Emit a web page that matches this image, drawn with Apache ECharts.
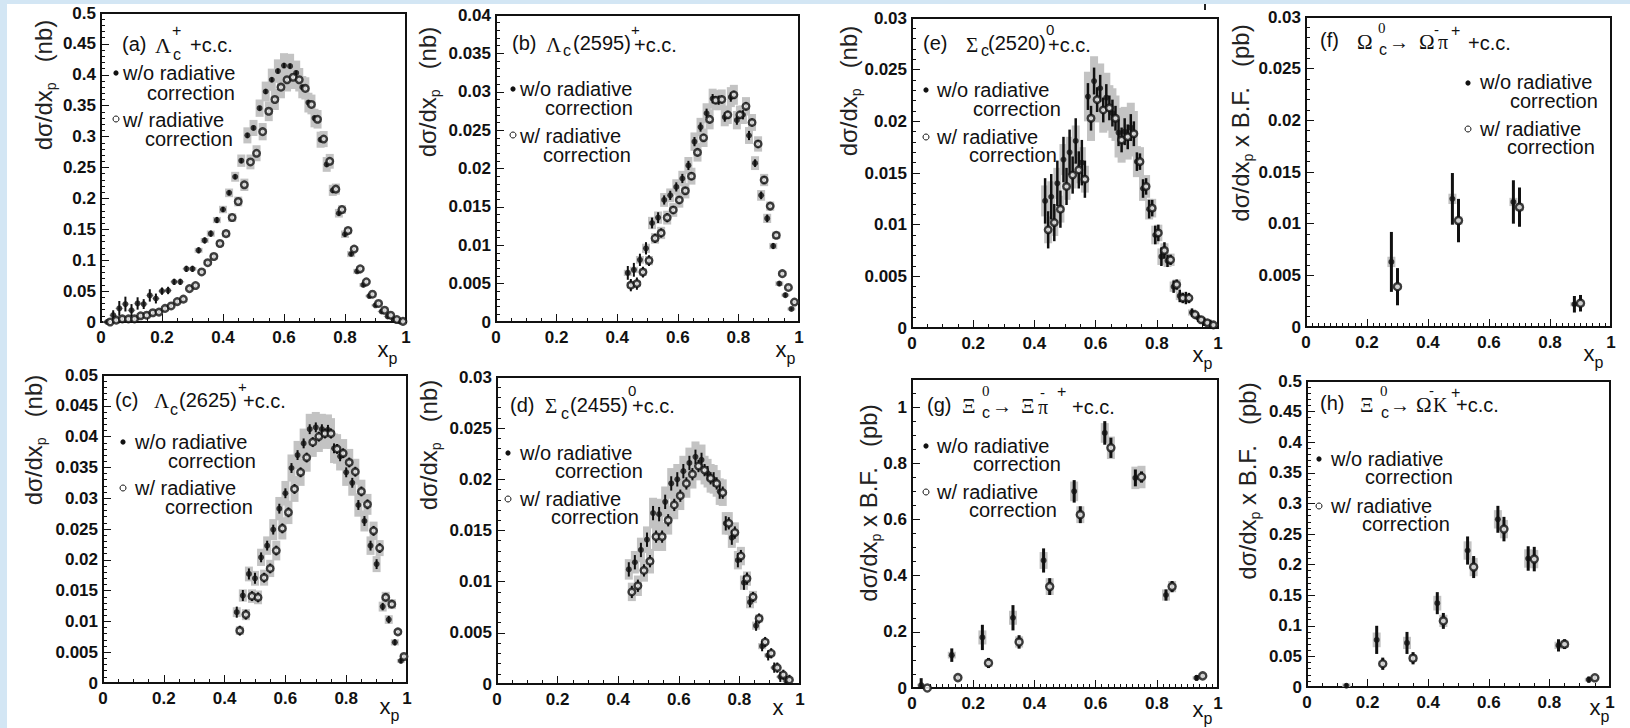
<!DOCTYPE html>
<html><head><meta charset="utf-8">
<script src="https://cdn.jsdelivr.net/npm/echarts@6/dist/echarts.min.js"></script>
<style>html,body{margin:0;padding:0;background:#fff;}#c{width:1630px;height:728px;}</style>
</head><body><div id="c"></div>
<script>
// ---------------- DATA ----------------
// (a) Lambda_c+
const A_WO_X = [0.02,0.04,0.06,0.08,0.10,0.12,0.14,0.16,0.18,0.20,0.22,0.24,0.26,0.28,0.30,0.32,0.34,0.36,0.38,0.40,0.42,0.44,0.46,0.48,0.50,0.52,0.54,0.56,0.58,0.60,0.62,0.64,0.66,0.68,0.70,0.72,0.74,0.76,0.78,0.80,0.82,0.84,0.86,0.88,0.90,0.92,0.94,0.96,0.98];
const A_WO_Y = [0.000,0.011,0.022,0.029,0.019,0.030,0.029,0.043,0.038,0.050,0.051,0.065,0.065,0.086,0.086,0.116,0.132,0.143,0.165,0.182,0.209,0.235,0.261,0.302,0.314,0.346,0.373,0.392,0.406,0.415,0.414,0.403,0.380,0.355,0.330,0.295,0.255,0.213,0.176,0.142,0.110,0.082,0.060,0.042,0.027,0.017,0.009,0.004,0.001];
const A_WO_E = [0.001,0.008,0.012,0.012,0.010,0.010,0.008,0.010,0.008,0.006,0.006,0.005,0.005,0.005,0.005,0.005,0.005,0.005,0.005,0.004,0.004,0.004,0.004,0.004,0.004,0.004,0.004,0.004,0.004,0.004,0.004,0.004,0.004,0.004,0.004,0.004,0.004,0.004,0.004,0.004,0.003,0.003,0.003,0.003,0.003,0.003,0.003,0.003,0.003];
const A_WO_S = [0.001,0.001,0.001,0.001,0.001,0.001,0.001,0.001,0.001,0.001,0.001,0.001,0.001,0.001,0.003,0.004,0.004,0.005,0.005,0.006,0.007,0.008,0.010,0.013,0.013,0.014,0.016,0.018,0.019,0.020,0.020,0.020,0.018,0.016,0.015,0.013,0.012,0.009,0.007,0.006,0.005,0.004,0.003,0.002,0.002,0.001,0.001,0.001,0.001];
const A_W_X = [0.03,0.05,0.07,0.09,0.11,0.13,0.15,0.17,0.19,0.21,0.23,0.25,0.27,0.29,0.31,0.33,0.35,0.37,0.39,0.41,0.43,0.45,0.47,0.49,0.51,0.53,0.55,0.57,0.59,0.61,0.63,0.65,0.67,0.69,0.71,0.73,0.75,0.77,0.79,0.81,0.83,0.85,0.87,0.89,0.91,0.93,0.95,0.97,0.99];
const A_W_Y = [0.000,0.003,0.005,0.005,0.005,0.010,0.011,0.015,0.016,0.022,0.026,0.033,0.037,0.054,0.059,0.081,0.096,0.106,0.127,0.143,0.169,0.195,0.222,0.259,0.273,0.308,0.341,0.360,0.380,0.392,0.396,0.392,0.378,0.352,0.328,0.296,0.260,0.215,0.182,0.148,0.118,0.086,0.065,0.045,0.030,0.019,0.011,0.004,0.001];
const A_W_E = [0.001,0.004,0.004,0.004,0.004,0.004,0.004,0.004,0.004,0.004,0.004,0.004,0.004,0.003,0.003,0.003,0.003,0.003,0.003,0.003,0.003,0.003,0.003,0.003,0.003,0.003,0.003,0.003,0.003,0.003,0.003,0.003,0.003,0.003,0.003,0.003,0.003,0.003,0.003,0.003,0.003,0.003,0.003,0.003,0.003,0.003,0.003,0.003,0.003];
const A_W_S = [0.001,0.001,0.001,0.001,0.001,0.001,0.001,0.001,0.001,0.001,0.001,0.001,0.001,0.002,0.003,0.004,0.004,0.005,0.005,0.006,0.007,0.008,0.010,0.012,0.013,0.014,0.016,0.017,0.018,0.019,0.019,0.019,0.018,0.016,0.015,0.013,0.012,0.009,0.007,0.006,0.005,0.004,0.003,0.002,0.002,0.001,0.001,0.001,0.001];

// (b) Lambda_c(2595)+
const B_WO_X = [0.435,0.455,0.475,0.495,0.515,0.535,0.555,0.575,0.595,0.615,0.635,0.655,0.675,0.695,0.715,0.735,0.755,0.775,0.795,0.815,0.835,0.855,0.875,0.895,0.915,0.935,0.955,0.975];
const B_WO_Y = [0.0064,0.0068,0.0081,0.0096,0.0129,0.0136,0.0159,0.0165,0.0176,0.0187,0.0204,0.0235,0.0254,0.0272,0.0291,0.0289,0.0267,0.0293,0.0263,0.0270,0.0243,0.0207,0.0165,0.0135,0.0099,0.0050,0.0035,0.0017];
const B_WO_E = [0.0009,0.0009,0.0008,0.0008,0.0007,0.0007,0.0006,0.0006,0.0006,0.0006,0.0006,0.0006,0.0006,0.0006,0.0006,0.0006,0.0006,0.0006,0.0006,0.0006,0.0006,0.0005,0.0005,0.0005,0.0004,0.0003,0.0003,0.0002];
const B_WO_S = [0.0004,0.0004,0.0005,0.0006,0.0008,0.0008,0.0009,0.0009,0.0010,0.0010,0.0011,0.0012,0.0012,0.0013,0.0013,0.0013,0.0012,0.0013,0.0012,0.0012,0.0011,0.0009,0.0007,0.0006,0.0004,0.0003,0.0002,0.0002];
const B_W_X = [0.445,0.465,0.485,0.505,0.525,0.545,0.565,0.585,0.605,0.625,0.645,0.665,0.685,0.705,0.725,0.745,0.765,0.785,0.805,0.825,0.845,0.865,0.885,0.905,0.925,0.945,0.965,0.985];
const B_W_Y = [0.0048,0.0050,0.0065,0.0080,0.0109,0.0116,0.0136,0.0146,0.0159,0.0171,0.0190,0.0221,0.0240,0.0264,0.0289,0.0290,0.0270,0.0296,0.0270,0.0281,0.0260,0.0232,0.0185,0.0151,0.0113,0.0063,0.0045,0.0026];
const B_W_E = [0.0008,0.0008,0.0007,0.0007,0.0006,0.0006,0.0006,0.0005,0.0005,0.0005,0.0005,0.0005,0.0005,0.0005,0.0005,0.0005,0.0005,0.0005,0.0005,0.0005,0.0005,0.0005,0.0005,0.0004,0.0004,0.0003,0.0003,0.0002];
const B_W_S = [0.0004,0.0004,0.0005,0.0006,0.0007,0.0008,0.0009,0.0009,0.0010,0.0010,0.0011,0.0012,0.0012,0.0013,0.0013,0.0013,0.0012,0.0013,0.0012,0.0012,0.0011,0.0010,0.0008,0.0006,0.0005,0.0003,0.0002,0.0002];

// (e) Sigma_c(2520)0
const E_WO_X = [0.435,0.455,0.475,0.495,0.515,0.535,0.555,0.575,0.595,0.615,0.635,0.655,0.675,0.695,0.715,0.735,0.755,0.775,0.795,0.815,0.835,0.855,0.875,0.895,0.915,0.935,0.955,0.975];
const E_WO_Y = [0.0123,0.0127,0.0140,0.0163,0.0170,0.0181,0.0160,0.0224,0.0239,0.0232,0.0223,0.0208,0.0189,0.0190,0.0194,0.0161,0.0135,0.0115,0.0090,0.0069,0.0065,0.0040,0.0031,0.0029,0.0015,0.0010,0.0006,0.0004];
const E_WO_E = [0.0022,0.0022,0.0022,0.0022,0.0022,0.0022,0.0022,0.0013,0.0013,0.0013,0.0013,0.0013,0.0013,0.0013,0.0013,0.0009,0.0009,0.0009,0.0009,0.0009,0.0006,0.0006,0.0006,0.0006,0.0004,0.0004,0.0004,0.0004];
const E_WO_S = [0.0015,0.0015,0.0015,0.0015,0.0015,0.0015,0.0015,0.0024,0.0024,0.0024,0.0024,0.0024,0.0024,0.0024,0.0024,0.0015,0.0012,0.0010,0.0009,0.0008,0.0006,0.0005,0.0004,0.0003,0.0003,0.0002,0.0002,0.0001];
const E_W_X = [0.445,0.465,0.485,0.505,0.525,0.545,0.565,0.585,0.605,0.625,0.645,0.665,0.685,0.705,0.725,0.745,0.765,0.785,0.805,0.825,0.845,0.865,0.885,0.905,0.925,0.945,0.965,0.985];
const E_W_Y = [0.0095,0.0102,0.0115,0.0137,0.0148,0.0153,0.0144,0.0203,0.0221,0.0211,0.0213,0.0203,0.0182,0.0185,0.0188,0.0161,0.0137,0.0116,0.0092,0.0075,0.0066,0.0042,0.0029,0.0029,0.0013,0.0008,0.0005,0.0003];
const E_W_E = [0.0018,0.0018,0.0018,0.0018,0.0018,0.0018,0.0018,0.0012,0.0012,0.0012,0.0012,0.0012,0.0012,0.0012,0.0012,0.0008,0.0008,0.0008,0.0008,0.0008,0.0005,0.0005,0.0005,0.0005,0.0003,0.0003,0.0003,0.0003];
const E_W_S = [0.0013,0.0013,0.0013,0.0013,0.0013,0.0013,0.0013,0.0022,0.0022,0.0022,0.0022,0.0022,0.0022,0.0022,0.0022,0.0014,0.0011,0.0009,0.0008,0.0007,0.0006,0.0005,0.0004,0.0003,0.0002,0.0002,0.0001,0.0001];

// (f) Omega_c0 -> Omega- pi+
const F_WO_X = [0.28,0.48,0.68,0.88];
const F_WO_Y = [0.0063,0.0124,0.0121,0.0022];
const F_WO_E = [0.0029,0.0025,0.0021,0.0008];
const F_WO_S = [0.0005,0.0005,0.0004,0.0002];
const F_W_X = [0.30,0.50,0.70,0.90];
const F_W_Y = [0.0039,0.0103,0.0116,0.0023];
const F_W_E = [0.0018,0.0021,0.0019,0.0008];
const F_W_S = [0.0003,0.0004,0.0004,0.0002];

// (c) Lambda_c(2625)+
const C_WO_X = [0.44,0.46,0.48,0.50,0.52,0.54,0.56,0.58,0.60,0.62,0.64,0.66,0.68,0.70,0.72,0.74,0.76,0.78,0.80,0.82,0.84,0.86,0.88,0.90,0.92,0.94,0.96,0.98];
const C_WO_Y = [0.0115,0.0142,0.0177,0.0170,0.0204,0.0223,0.0249,0.0283,0.0308,0.0349,0.0370,0.0389,0.0412,0.0415,0.0412,0.0411,0.0381,0.0368,0.0342,0.0325,0.0289,0.0263,0.0223,0.0193,0.0124,0.0103,0.0066,0.0036];
const C_WO_E = [0.0009,0.0009,0.0009,0.0009,0.0008,0.0008,0.0008,0.0008,0.0008,0.0008,0.0008,0.0008,0.0008,0.0008,0.0008,0.0008,0.0008,0.0008,0.0008,0.0008,0.0008,0.0008,0.0008,0.0008,0.0006,0.0006,0.0005,0.0004];
const C_WO_S = [0.0008,0.0010,0.0012,0.0012,0.0014,0.0015,0.0017,0.0019,0.0020,0.0022,0.0023,0.0024,0.0025,0.0025,0.0025,0.0025,0.0024,0.0023,0.0022,0.0021,0.0019,0.0017,0.0015,0.0013,0.0008,0.0007,0.0005,0.0003];
const C_W_X = [0.45,0.47,0.49,0.51,0.53,0.55,0.57,0.59,0.61,0.63,0.65,0.67,0.69,0.71,0.73,0.75,0.77,0.79,0.81,0.83,0.85,0.87,0.89,0.91,0.93,0.95,0.97,0.99];
const C_W_Y = [0.0085,0.0111,0.0141,0.0139,0.0171,0.0186,0.0215,0.0251,0.0277,0.0315,0.0342,0.0366,0.0391,0.0400,0.0405,0.0405,0.0380,0.0373,0.0358,0.0343,0.0311,0.0290,0.0247,0.0219,0.0139,0.0128,0.0083,0.0043];
const C_W_E = [0.0008,0.0008,0.0008,0.0008,0.0008,0.0008,0.0008,0.0008,0.0008,0.0008,0.0008,0.0008,0.0008,0.0008,0.0008,0.0008,0.0008,0.0008,0.0008,0.0008,0.0008,0.0008,0.0008,0.0008,0.0006,0.0006,0.0005,0.0004];
const C_W_S = [0.0007,0.0009,0.0011,0.0011,0.0013,0.0014,0.0016,0.0018,0.0019,0.0021,0.0022,0.0023,0.0024,0.0025,0.0025,0.0025,0.0024,0.0023,0.0022,0.0021,0.0019,0.0017,0.0015,0.0013,0.0009,0.0008,0.0005,0.0003];

// (d) Sigma_c(2455)0
const D_WO_X = [0.435,0.455,0.475,0.495,0.515,0.535,0.555,0.575,0.595,0.615,0.635,0.655,0.675,0.695,0.715,0.735,0.755,0.775,0.795,0.815,0.835,0.855,0.875,0.895,0.915,0.935,0.955];
const D_WO_Y = [0.0112,0.0119,0.0131,0.0141,0.0167,0.0166,0.0178,0.0196,0.0200,0.0208,0.0216,0.0222,0.0219,0.0206,0.0200,0.0188,0.0157,0.0143,0.0121,0.0099,0.0080,0.0057,0.0037,0.0028,0.0016,0.0007,0.0003];
const D_WO_E = [0.0007,0.0007,0.0007,0.0007,0.0007,0.0007,0.0007,0.0007,0.0007,0.0007,0.0007,0.0007,0.0007,0.0007,0.0007,0.0007,0.0007,0.0007,0.0007,0.0007,0.0005,0.0005,0.0005,0.0005,0.0005,0.0005,0.0005];
const D_WO_S = [0.0010,0.0011,0.0012,0.0013,0.0015,0.0015,0.0015,0.0015,0.0015,0.0015,0.0015,0.0015,0.0015,0.0014,0.0014,0.0013,0.0011,0.0010,0.0009,0.0007,0.0006,0.0004,0.0003,0.0002,0.0001,0.0001,0.0001];
const D_W_X = [0.445,0.465,0.485,0.505,0.525,0.545,0.565,0.585,0.605,0.625,0.645,0.665,0.685,0.705,0.725,0.745,0.765,0.785,0.805,0.825,0.845,0.865,0.885,0.905,0.925,0.945,0.965];
const D_W_Y = [0.0090,0.0096,0.0111,0.0120,0.0144,0.0144,0.0160,0.0175,0.0184,0.0196,0.0205,0.0213,0.0209,0.0201,0.0196,0.0187,0.0157,0.0148,0.0125,0.0103,0.0085,0.0064,0.0041,0.0030,0.0016,0.0009,0.0004];
const D_W_E = [0.0006,0.0006,0.0006,0.0006,0.0006,0.0006,0.0006,0.0006,0.0006,0.0006,0.0006,0.0006,0.0006,0.0006,0.0006,0.0006,0.0006,0.0006,0.0006,0.0006,0.0005,0.0005,0.0005,0.0005,0.0005,0.0005,0.0005];
const D_W_S = [0.0009,0.0010,0.0011,0.0012,0.0014,0.0014,0.0014,0.0014,0.0014,0.0014,0.0014,0.0014,0.0014,0.0014,0.0013,0.0013,0.0011,0.0010,0.0009,0.0007,0.0006,0.0004,0.0003,0.0002,0.0001,0.0001,0.0001];

// (g) Xi_c0 -> Xi- pi+
const G_WO_X = [0.03,0.13,0.23,0.33,0.43,0.53,0.63,0.73,0.83,0.93];
const G_WO_Y = [0.010,0.117,0.180,0.250,0.454,0.700,0.908,0.748,0.331,0.036];
const G_WO_E = [0.025,0.024,0.045,0.045,0.043,0.040,0.042,0.030,0.020,0.010];
const G_WO_S = [0.005,0.012,0.025,0.025,0.030,0.035,0.035,0.040,0.020,0.006];
const G_W_X = [0.05,0.15,0.25,0.35,0.45,0.55,0.65,0.75,0.85,0.95];
const G_W_Y = [0.000,0.037,0.089,0.164,0.361,0.617,0.855,0.751,0.361,0.043];
const G_W_E = [0.004,0.010,0.018,0.024,0.030,0.030,0.036,0.020,0.020,0.008];
const G_W_S = [0.002,0.006,0.014,0.020,0.030,0.030,0.040,0.040,0.020,0.006];

// (h) Xi_c0 -> Omega- K+
const H_WO_X = [0.13,0.23,0.33,0.43,0.53,0.63,0.73,0.83,0.93];
const H_WO_Y = [0.002,0.077,0.072,0.137,0.223,0.274,0.210,0.068,0.012];
const H_WO_E = [0.004,0.023,0.018,0.018,0.023,0.022,0.020,0.010,0.005];
const H_WO_S = [0.004,0.012,0.010,0.012,0.015,0.015,0.015,0.006,0.003];
const H_W_X = [0.25,0.35,0.45,0.55,0.65,0.75,0.85,0.95];
const H_W_Y = [0.038,0.047,0.108,0.196,0.258,0.209,0.070,0.015];
const H_W_E = [0.010,0.010,0.013,0.018,0.020,0.020,0.008,0.004];
const H_W_S = [0.005,0.006,0.010,0.015,0.015,0.015,0.006,0.003];

const X_TICK_LABELS_INTERVAL = 0.2;

// ---------------- LAYOUT ----------------
const SANS = 'Liberation Sans, Arial, Helvetica, sans-serif';
const SERIF = 'Liberation Serif, DejaVu Serif, serif';
const S = 'S', R = 'R';

const PANELS = [
 {key:'a', g:[101,13,305,309], yMax:0.5, yInt:0.05, yMinor:5, xMinor:4,
  wo:[A_WO_X,A_WO_Y,A_WO_E,A_WO_S], w:[A_W_X,A_W_Y,A_W_E,A_W_S], lw:2, dense:true,
  yt:[43,85,'nb',false], xt:[383,349,true],
  title:[['(a)',122,44,20,S],['Λ',155,45,22,R],['+',172,30,16,S],['c',173,54,16,S],['+c.c.',190,45,20,S]],
  lg:{dot:[116,73],open:[116,119],t:[['w/o radiative',123,73],['correction',147,93],['w/ radiative',123,120],['correction',145,139]]}},
 {key:'b', g:[496,15,303,307], yMax:0.04, yInt:0.005, yMinor:5, xMinor:4,
  wo:[B_WO_X,B_WO_Y,B_WO_E,B_WO_S], w:[B_W_X,B_W_Y,B_W_E,B_W_S], lw:2, dense:true,
  yt:[427,92,'nb',false], xt:[781,349,true],
  title:[['(b)',512,43,20,S],['Λ',546,45,21,R],['c',563,50,16,S],['(2595)',573,43,20,S],['+',631,29,15,S],['+c.c.',634,45,20,S]],
  lg:{dot:[513,89],open:[513,135],t:[['w/o radiative',520,89],['correction',545,108],['w/ radiative',520,136],['correction',543,155]]}},
 {key:'e', g:[912,18,306,310], yMax:0.03, yInt:0.005, yMinor:5, xMinor:4,
  wo:[E_WO_X,E_WO_Y,E_WO_E,E_WO_S], w:[E_W_X,E_W_Y,E_W_E,E_W_S], lw:2.5, dense:true,
  yt:[848,91,'nb',false], xt:[1198,354,true],
  title:[['(e)',923,43,20,S],['Σ',966,45,21,R],['c',981,50,16,S],['(2520)',988,43,20,S],['0',1046,29,15,S],['+c.c.',1048,45,20,S]],
  lg:{dot:[926,90],open:[926,137],t:[['w/o radiative',937,90],['correction',973,109],['w/ radiative',937,137],['correction',969,155]]}},
 {key:'f', g:[1306,17,305,310], yMax:0.03, yInt:0.005, yMinor:5, xMinor:10,
  wo:[F_WO_X,F_WO_Y,F_WO_E,F_WO_S], w:[F_W_X,F_W_Y,F_W_E,F_W_S], lw:3, dense:false,
  yt:[1240,123,'pb',true], xt:[1589,353,true],
  title:[['(f)',1320,40,20,S],['Ω',1357,42,21,R],['0',1378,28,15,R],['c',1379,49,16,S],['→',1389,42,20,R],['Ω',1419,42,21,R],['-',1434,29,15,S],['π',1438,42,20,R],['+',1451,30,16,S],['+c.c.',1468,43,20,S]],
  lg:{dot:[1468,83],open:[1468,129],t:[['w/o radiative',1480,82],['correction',1510,101],['w/ radiative',1480,129],['correction',1507,147]]}},
 {key:'c', g:[103,375,304,308], yMax:0.05, yInt:0.005, yMinor:5, xMinor:4,
  wo:[C_WO_X,C_WO_Y,C_WO_E,C_WO_S], w:[C_W_X,C_W_Y,C_W_E,C_W_S], lw:2, dense:true,
  yt:[33,440,'nb',false], xt:[385,706,true],
  title:[['(c)',115,400,20,S],['Λ',154,401,21,R],['c',170,409,16,S],['(2625)',179,400,20,S],['+',238,386,15,S],['+c.c.',243,401,20,S]],
  lg:{dot:[123,442],open:[123,488],t:[['w/o radiative',135,442],['correction',168,461],['w/ radiative',135,488],['correction',165,507]]}},
 {key:'d', g:[497,377,303,307], yMax:0.03, yInt:0.005, yMinor:5, xMinor:4,
  wo:[D_WO_X,D_WO_Y,D_WO_E,D_WO_S], w:[D_W_X,D_W_Y,D_W_E,D_W_S], lw:2, dense:true,
  yt:[428,445,'nb',false], xt:[778,707,false],
  title:[['(d)',510,405,20,S],['Σ',545,406,21,R],['c',561,413,16,S],['(2455)',570,405,20,S],['0',628,390,15,S],['+c.c.',632,406,20,S]],
  lg:{dot:[508,453],open:[508,499],t:[['w/o radiative',520,453],['correction',555,471],['w/ radiative',520,499],['correction',551,517]]}},
 {key:'g', g:[912,379,306,309], yMax:1.1, yInt:0.2, yMinor:4, xMinor:10,
  wo:[G_WO_X,G_WO_Y,G_WO_E,G_WO_S], w:[G_W_X,G_W_Y,G_W_E,G_W_S], lw:3, dense:false,
  yt:[868,503,'pb',true], xt:[1198,709,true],
  title:[['(g)',927,405,20,S],['Ξ',962,406,21,R],['0',982,391,15,R],['c',982,412,16,S],['→',992,406,20,R],['Ξ',1021,406,21,R],['-',1040,392,15,S],['π',1038,407,20,R],['+',1057,391,16,S],['+c.c.',1072,407,20,S]],
  lg:{dot:[926,446],open:[926,492],t:[['w/o radiative',937,446],['correction',973,464],['w/ radiative',937,492],['correction',969,510]]}},
 {key:'h', g:[1307,381,303,306], yMax:0.5, yInt:0.05, yMinor:5, xMinor:4,
  wo:[H_WO_X,H_WO_Y,H_WO_E,H_WO_S], w:[H_W_X,H_W_Y,H_W_E,H_W_S], lw:3, dense:false,
  yt:[1247,481,'pb',true], xt:[1595,707,true],
  title:[['(h)',1320,403,20,S],['Ξ',1360,405,21,R],['0',1380,391,15,R],['c',1381,412,16,S],['→',1390,405,20,R],['Ω',1416,405,21,R],['-',1429,390,15,S],['K',1433,405,20,R],['+',1451,392,16,S],['+c.c.',1456,405,20,S]],
  lg:{dot:[1319,459],open:[1319,506],t:[['w/o radiative',1331,459],['correction',1365,477],['w/ radiative',1331,506],['correction',1362,524]]}}
];

// ---------------- BUILD ----------------
const chart = echarts.init(document.getElementById('c'), null, {renderer:'svg'});
const grids = [], xAxes = [], yAxes = [], series = [], graphics = [];

function statRender(lw){
  return function(params, api){
    const x = api.value(0), y = api.value(1), e = api.value(2);
    const lo = api.coord([x, Math.max(0, y - e)]);
    const hi = api.coord([x, y + e]);
    return {type:'line', shape:{x1:lo[0], y1:lo[1], x2:hi[0], y2:hi[1]}, style:{stroke:'#111', lineWidth:lw}};
  };
}
function systRender(halfW){
  return function(params, api){
    const x = api.value(0), y = api.value(1), s = api.value(2);
    const top = api.coord([x, y + s]);
    const bot = api.coord([x, Math.max(0, y - s)]);
    return {type:'rect', shape:{x: top[0] - halfW, y: top[1], width: 2*halfW, height: Math.max(1, bot[1] - top[1])}, style:{fill:'#c3c3c3'}};
  };
}

PANELS.forEach((p, i) => {
  grids.push({left:p.g[0], top:p.g[1], width:p.g[2], height:p.g[3], show:true, borderColor:'#111', borderWidth:2,
    backgroundColor:'#fff', containLabel:false, outerBoundsMode:'none'});
  xAxes.push({gridIndex:i, type:'value', min:0, max:1, interval:X_TICK_LABELS_INTERVAL,
    axisLine:{show:true, onZero:false, lineStyle:{color:'#111', width:2}},
    axisTick:{show:true, inside:true, length:8, lineStyle:{color:'#111', width:1}},
    minorTick:{show:true, splitNumber:p.xMinor, length:4, lineStyle:{color:'#111', width:1}},
    splitLine:{show:false}, minorSplitLine:{show:false},
    axisLabel:{color:'#111', fontWeight:'bold', fontSize:17, fontFamily:SANS, margin:7}});
  const yLabel = {color:'#111', fontWeight:'bold', fontSize:17, fontFamily:SANS, margin:5};
  if (p.key === 'g') yLabel.formatter = v => (v > 1.05 ? '' : String(+v.toFixed(2)));
  yAxes.push({gridIndex:i, type:'value', min:0, max:p.yMax, interval:p.yInt,
    axisLine:{show:true, onZero:false, lineStyle:{color:'#111', width:2}},
    axisTick:{show:true, inside:true, length:8, lineStyle:{color:'#111', width:1}},
    minorTick:{show:true, splitNumber:p.yMinor, length:4, lineStyle:{color:'#111', width:1}},
    splitLine:{show:false}, minorSplitLine:{show:false},
    axisLabel:yLabel});

  const mk = (arr, k) => arr[0].map((x, j) => [x, arr[1][j], arr[k][j]]);
  [p.wo, p.w].forEach((arr, si) => {
    series.push({type:'custom', name:(si ? 'w/' : 'w/o') + ' syst', xAxisIndex:i, yAxisIndex:i, z:1,
      renderItem:systRender(4), data:mk(arr, 3), silent:true});
  });
  [p.wo, p.w].forEach((arr, si) => {
    series.push({type:'custom', name:(si ? 'w/' : 'w/o') + ' stat', xAxisIndex:i, yAxisIndex:i, z:2,
      renderItem:statRender(p.lw), data:mk(arr, 2), silent:true});
  });
  series.push({type:'scatter', name:'w/o radiative correction', xAxisIndex:i, yAxisIndex:i, z:3,
    symbol:'circle', symbolSize:6, itemStyle:{color:'#111'},
    data:p.wo[0].map((x, j) => [x, p.wo[1][j]]), silent:true});
  series.push({type:'scatter', name:'w/ radiative correction', xAxisIndex:i, yAxisIndex:i, z:4,
    symbol:'circle', symbolSize:p.dense ? 6.5 : 7, itemStyle:{color:'#fff', borderColor:'#111', borderWidth:2.5},
    data:p.w[0].map((x, j) => [x, p.w[1][j]]), silent:true});

  // title pieces
  p.title.forEach(t => {
    graphics.push({type:'text', x:t[1], y:t[2], z:100, silent:true,
      style:{text:t[0], fontSize:t[3], fontFamily:t[4] === R ? SERIF : SANS, fill:'#111', align:'left', verticalAlign:'middle'}});
  });
  // legend
  graphics.push({type:'circle', z:100, silent:true, shape:{cx:p.lg.dot[0], cy:p.lg.dot[1], r:2.6}, style:{fill:'#111'}});
  graphics.push({type:'circle', z:100, silent:true, shape:{cx:p.lg.open[0], cy:p.lg.open[1], r:3}, style:{fill:'#fff', stroke:'#111', lineWidth:1}});
  p.lg.t.forEach(t => {
    graphics.push({type:'text', x:t[1], y:t[2], z:100, silent:true,
      style:{text:t[0], fontSize:20, fontFamily:SANS, fill:'#111', align:'left', verticalAlign:'middle'}});
  });
  // y title
  const ytxt = p.yt[3] ? '{a|dσ/dx}{s|p}{a| x B.F.   (' + p.yt[2] + ')}' : '{a|dσ/dx}{s|p}{a|   (' + p.yt[2] + ')}';
  graphics.push({type:'text', x:p.yt[0], y:p.yt[1], rotation:Math.PI/2, z:100, silent:true,
    style:{text:ytxt, align:'center', verticalAlign:'middle',
      rich:{a:{fontSize:24, fontFamily:SANS, fill:'#222', lineHeight:30, verticalAlign:'middle'},
            s:{fontSize:14, fontFamily:SANS, fill:'#222', lineHeight:16, verticalAlign:'bottom'}}}});
  // x title
  graphics.push({type:'text', x:p.xt[0], y:p.xt[1], z:100, silent:true,
    style:{text:'x', fontSize:22, fontFamily:SANS, fill:'#111', align:'center', verticalAlign:'middle'}});
  if (p.xt[2]) {
    graphics.push({type:'text', x:p.xt[0] + 10, y:p.xt[1] + 9, z:100, silent:true,
      style:{text:'p', fontSize:16, fontFamily:SANS, fill:'#111', align:'center', verticalAlign:'middle'}});
  }
});

// page background bands
graphics.unshift({type:'rect', z:0, silent:true, shape:{x:0, y:0, width:1630, height:4}, style:{fill:'#d3e6f4'}});
graphics.unshift({type:'rect', z:0, silent:true, shape:{x:0, y:0, width:7, height:728}, style:{fill:'#d3e6f4'}});
graphics.push({type:'rect', z:100, silent:true, shape:{x:1204, y:4, width:2, height:6}, style:{fill:'#222'}});

chart.setOption({
  animation:false,
  backgroundColor:'#fff',
  textStyle:{fontFamily:SANS},
  grid:grids, xAxis:xAxes, yAxis:yAxes, series:series, graphic:graphics
});
</script></body></html>
